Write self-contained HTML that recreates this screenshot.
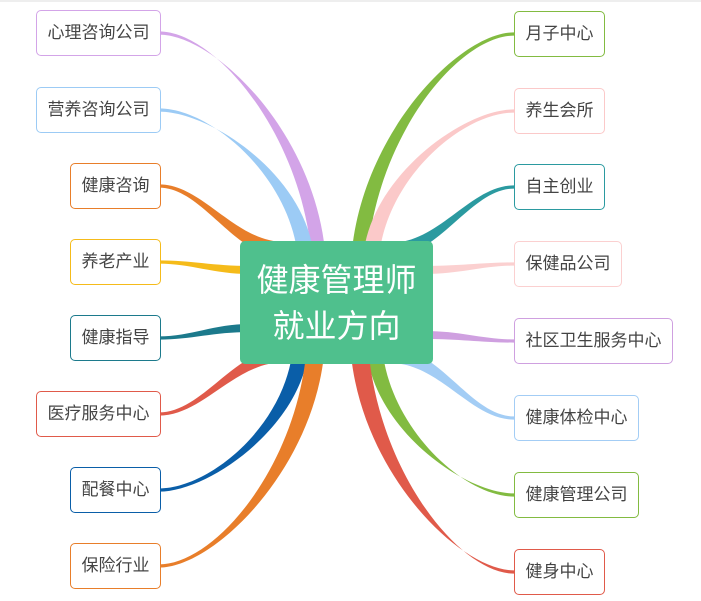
<!DOCTYPE html>
<html><head><meta charset="utf-8"><style>
body{margin:0;width:701px;height:601px;background:#fff;position:relative;overflow:hidden;font-family:"Liberation Sans","Noto Sans CJK SC",sans-serif}
.n{position:absolute;height:44px;line-height:44px;border:1px solid;border-radius:5px;background:#fff;font-size:17px;color:#444;text-align:center;box-sizing:content-box}
#c{position:absolute;left:240px;top:241px;width:193px;height:123px;background:#4fc08d;border-radius:5px;color:#fff;font-size:32px;line-height:46px;text-align:center;padding-top:16px;box-sizing:border-box}
svg{position:absolute;left:0;top:0}
</style></head><body>
<div style="position:absolute;left:0;top:0;width:701px;height:2px;background:#eee"></div>
<svg width="701" height="601" id="s"></svg>
<div id="c">健康管理师<br>就业方向</div>
<div id="nodes"></div>
<script>
var L=[["心理咨询公司",36,10,123,"#d3a4e8",318,250,7],["营养咨询公司",36,87,123,"#9ccbf5",305,250,8],["健康咨询",70,163,89,"#e87e2a",285,250,8],["养老产业",70,239,89,"#f5bb1a",250,270,4],["健康指导",70,315,89,"#1c7a8c",250,328,4],["医疗服务中心",36,391,123,"#e05a4a",285,355,7],["配餐中心",70,467,89,"#0a5ea8",300,355,8],["保险行业",70,543,89,"#e87e2a",315,355,9]];
var R=[["月子中心",514,11,89,"#82bb41",360,250,8],["养生会所",514,88,89,"#fbc9c9",372,250,8],["自主创业",514,164,89,"#2b9aa0",390,250,7],["保健品公司",514,241,106,"#fbd0d0",425,270,4],["社区卫生服务中心",514,318,157,"#cfa0e0",425,335,4],["健康体检中心",514,395,123,"#a3cdf5",390,355,8],["健康管理公司",514,472,123,"#82bb41",375,355,8],["健身中心",514,549,89,"#e05a4a",360,355,9]];
var s=document.getElementById('s'),h='',nd='';
function br(xn,yn,xc,yc,w,col){
 var dx=xc-xn,dy=yc-yn;
 var c1x=xn+dx*0.35,c2x=xc-dx*0.08,c2y=yc-dy*0.55;
 var v=Math.abs(dy)<80;
 if(v){c2x=xc-dx*0.4;c2y=yc;}
 var a=1.6;
 var p;
 if(v){p='M'+xn+','+(yn-a)+' C'+c1x+','+(yn-a)+' '+c2x+','+(yc-w)+' '+xc+','+(yc-w)+' L'+xc+','+(yc+w)+' C'+c2x+','+(yc+w)+' '+c1x+','+(yn+a)+' '+xn+','+(yn+a)+'Z';}
 else{p='M'+xn+','+(yn-a)+' C'+c1x+','+(yn-a)+' '+(c2x-w)+','+c2y+' '+(xc-w)+','+yc+' L'+(xc+w)+','+yc+' C'+(c2x+w)+','+c2y+' '+c1x+','+(yn+a)+' '+xn+','+(yn+a)+'Z';}
 h+='<path d="'+p+'" fill="'+col+'"/>';
}
L.forEach(function(n){var yn=n[2]+23;br(n[1]+n[3],yn,n[5],n[6],n[7],n[4]);nd+='<div class="n" style="left:'+n[1]+'px;top:'+n[2]+'px;width:'+n[3]+'px;border-color:'+n[4]+'">'+n[0]+'</div>';});
R.forEach(function(n){var yn=n[2]+23;br(n[1],yn,n[5],n[6],n[7],n[4]);nd+='<div class="n" style="left:'+n[1]+'px;top:'+n[2]+'px;width:'+n[3]+'px;border-color:'+n[4]+'">'+n[0]+'</div>';});
s.innerHTML=h;document.getElementById('nodes').innerHTML=nd;
</script>
</body></html>
